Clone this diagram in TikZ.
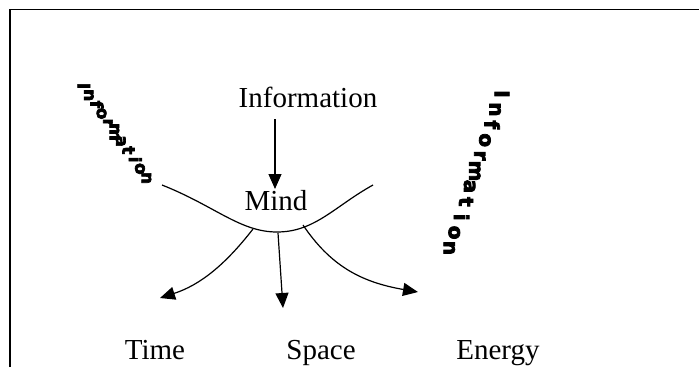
\documentclass[tikz,border=0pt]{standalone}
\usepackage{fontspec}
\setmainfont{Liberation Serif}
\newfontfamily\blockfont{DejaVu Sans}[BoldFont={DejaVu Sans Bold}, BoldFeatures={FakeBold=4}]
\usetikzlibrary{arrows.meta,calc}

\begin{document}
\begin{tikzpicture}[x=1pt, y=-1pt,
  word/.style={font=\fontsize{29}{34}\selectfont, inner sep=0pt, anchor=base},
  bent/.style={font=\blockfont\bfseries\fontsize{#1}{#1}\selectfont, inner sep=0pt,
    anchor=mid, rotate=-90},
  arr/.style={line width=1.2pt, -{Triangle[length=15pt,width=13pt]}},
]
  \useasboundingbox (0,0) rectangle (699,367);
  % --- frame ---
  \draw[line width=1.6pt] (10,367) -- (10,9.5) -- (699,9.5);
  % --- words ---
  \node[word] (info) at (308,107) {Information};
  \node[word] (mind) at (276,210) {Mind};
  \node[word] (time) at (155,359) {Time};
  \node[word] (space) at (321,359) {Space};
  \node[word] (energy) at (498,359) {Energy};
  % --- slanted letters ---
  \coordinate (ltop) at (80,86);
  \coordinate (lbot) at (144,178);
  \coordinate (rtop) at (497,94);
  \coordinate (rbot) at (446,248);
  \foreach \ch [count=\k] in {I,n,f,o,r,m,a,t,i,o,n} {
    \node[bent=17] (l\k) at ($(ltop)!{(\k-1)/10}!(lbot)$) {\ch};
    \node[bent=20] (r\k) at ($(rtop)!{(\k-1)/10}!(rbot)$) {\ch};
  }
  % --- the bowl ---
  \coordinate (infoout) at (275,119);
  \coordinate (mindin) at (275,189);
  \coordinate (bl) at (253,229);
  \coordinate (bm) at (278,233);
  \coordinate (br) at (303,225);
  \coordinate (tl) at (160,298);
  \coordinate (tm) at (283,308);
  \coordinate (tr) at (418,292);
  \draw[line width=1.2pt] (162,185) .. controls (215,206) and (240,232) .. (277,232)
    .. controls (315,232) and (335,206) .. (373,185);
  \draw[arr] (infoout) -- (mindin);
  \draw[arr] (bl) .. controls (225,265) and (200,285) .. (tl);
  \draw[arr] (bm) -- (tm);
  \draw[arr] (br) .. controls (330,265) and (360,282) .. (tr);
\end{tikzpicture}
\end{document}
